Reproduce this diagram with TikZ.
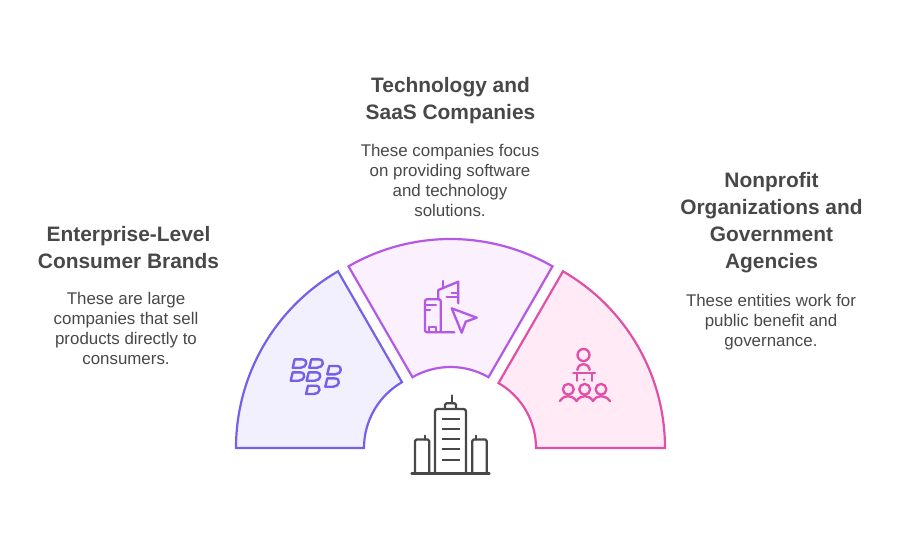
\documentclass[tikz,border=0pt]{standalone}
\usepackage{fontspec}
\setmainfont{Liberation Sans}
\definecolor{inktxt}{HTML}{484848}
\definecolor{strokeA}{HTML}{7560E8}
\definecolor{fillA}{HTML}{F2F0FE}
\definecolor{strokeB}{HTML}{B558E6}
\definecolor{fillB}{HTML}{FAF0FE}
\definecolor{strokeC}{HTML}{E04FA8}
\definecolor{fillC}{HTML}{FFEAF6}
\tikzset{
  sectorshape/.style={line width=2.2pt,line join=miter},
  iconline/.style={line width=2.3pt,line cap=round,line join=round},
  headtxt/.style={text=inktxt,align=center,inner sep=0pt,font=\fontsize{20.9}{27}\selectfont\bfseries},
  bodytxt/.style={text=inktxt,align=center,inner sep=0pt,font=\fontsize{16.9}{20}\selectfont},
}
\newcommand{\bbD}[2]{\draw[iconline,strokeA,line width=2.4pt,shift={(#1,#2)}] (0,0) -- (2,-8.3) -- (9.5,-8.3) .. controls (15.8,-8.3) and (14.4,0) .. (8,0) -- cycle;}
\begin{document}
\begin{tikzpicture}[x=1pt,y=-1pt]
\useasboundingbox (0,0) rectangle (900,550);
% sectors
\begin{scope}[shift={(440,448)}]
\draw[sectorshape,draw=strokeA,fill=fillA] (180:204pt) arc[start angle=180,end angle=120,radius=204pt] -- (120:76pt) arc[start angle=120,end angle=180,radius=76pt] -- cycle;
\end{scope}
\begin{scope}[shift={(450.5,443)}]
\draw[sectorshape,draw=strokeB,fill=fillB] (120:204pt) arc[start angle=120,end angle=60,radius=204pt] -- (60:76pt) arc[start angle=60,end angle=120,radius=76pt] -- cycle;
\end{scope}
\begin{scope}[shift={(461,448)}]
\draw[sectorshape,draw=strokeC,fill=fillC] (60:204pt) arc[start angle=60,end angle=0,radius=204pt] -- (0:75pt) arc[start angle=0,end angle=60,radius=75pt] -- cycle;
\end{scope}
% centre building
\begin{scope}[iconline,inktxt]
\draw (411.5,473.5) -- (489.5,473.5);
\draw[rounded corners=2.5pt] (435,473.5) -- (435,409) -- (466,409) -- (466,473.5);
\draw[rounded corners=1.5pt] (445,409) -- (445,403.3) -- (456,403.3) -- (456,409);
\draw (452,403.3) -- (452,395.5);
\foreach \yy in {419.3,429.3,439.3,449.3,460}{\draw[line cap=butt] (441.7,\yy) -- (460,\yy);}
\draw[rounded corners=1.5pt] (415,473.5) -- (415,439.5) -- (429.3,439.5) -- (429.3,473.5);
\draw (425,439.5) -- (425,435.7);
\draw[rounded corners=1.5pt] (472.3,473.5) -- (472.3,439.5) -- (486.7,439.5) -- (486.7,473.5);
\draw (476,439.5) -- (476,435.7);
\end{scope}
% technology icon
\begin{scope}[iconline,strokeB]
\draw[rounded corners=1.5pt] (440.7,332.3) -- (440.7,299.3) -- (425,299.3) -- (425,332.3) -- (454.3,332.3);
\draw (425,305) -- (436,305);
\draw (425,310) -- (430,310);
\draw (429.3,332.3) -- (429.3,326.7) -- (436,326.7) -- (436,332.3);
\draw (438.3,299.3) -- (438.3,290) -- (458.3,281.7) -- (458.3,303.3);
\draw (442.7,288.4) -- (442.7,281);
\draw (451.7,292.7) -- (458.3,292.7);
\draw (446.7,297.3) -- (458.3,297.3);
\draw (451.7,308.3) -- (476.7,317.7) -- (465.7,321.7) -- (461.7,332.7) -- cycle;
\end{scope}
% people icon
\begin{scope}[iconline,strokeC]
\draw (583.5,355) circle[radius=6pt];
\draw (577.3,370) .. controls (578.5,362) and (588.5,362) .. (589.7,370);
\draw (573.3,373.3) -- (595,373.3);
\draw (576.7,373.3) -- (576.7,380.7);
\draw (591.7,373.3) -- (591.7,380.7);
\fill (584,379.6) circle[radius=1.2pt];
\draw (568.3,389.3) circle[radius=5.4pt];
\draw (584.7,389.3) circle[radius=5.4pt];
\draw (601,389.3) circle[radius=5.4pt];
\draw (560,401) .. controls (564,394.5) and (572,394.5) .. (576.5,401) .. controls (581,394.5) and (589,394.5) .. (593,401) .. controls (597,394.5) and (605,394.5) .. (610,401);
\end{scope}
% blackberry icon
\bbD{292.7}{367.7}
\bbD{309.3}{367.7}
\bbD{290.7}{380.7}
\bbD{306.7}{380.7}
\bbD{327.3}{374.3}
\bbD{325.3}{386.7}
\bbD{306}{394}
% texts
\node[headtxt] (headA) at (128.5,248) {Enterprise-Level\\Consumer Brands};
\node[bodytxt] (bodyA) at (126,328) {These are large\\companies that sell\\products directly to\\consumers.};
\node[headtxt] (headB) at (450.5,101) {Technology and\\SaaS Companies};
\node[bodytxt] (bodyB) at (450,180) {These companies focus\\on providing software\\and technology\\solutions.};
\node[headtxt] (headC) at (771.5,222.5) {Nonprofit\\Organizations and\\Government\\Agencies};
\node[bodytxt] (bodyC) at (771,322) {These entities work for\\public benefit and\\governance.};
\end{tikzpicture}
\end{document}
